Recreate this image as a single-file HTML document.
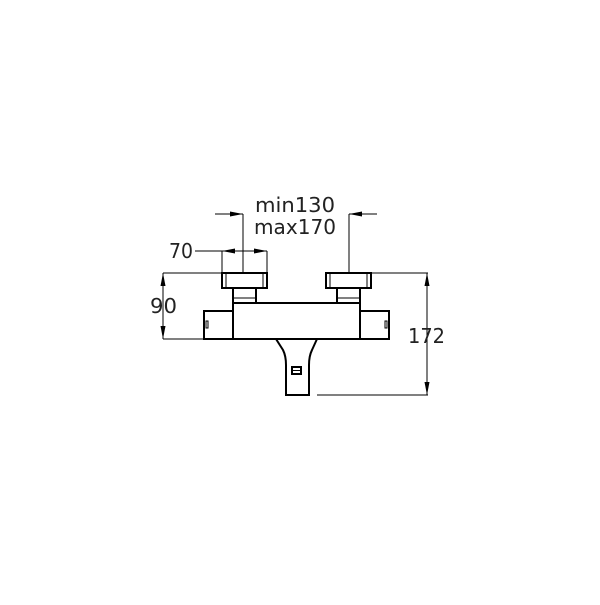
<!DOCTYPE html>
<html><head><style>body{margin:0;background:#fff}</style></head><body>
<svg width="600" height="600" viewBox="0 0 600 600" xmlns="http://www.w3.org/2000/svg" font-family="'DejaVu Sans','Liberation Sans',sans-serif">
<rect width="600" height="600" fill="#fff"/>
<g stroke="#000" fill="none" stroke-width="1">
<line x1="215" y1="214" x2="243" y2="214"/>
<line x1="243" y1="214" x2="243" y2="273"/>
<line x1="349" y1="214" x2="377" y2="214"/>
<line x1="349" y1="214" x2="349" y2="273"/>
<line x1="195" y1="251" x2="267" y2="251"/>
<line x1="222" y1="251" x2="222" y2="273"/>
<line x1="267" y1="251" x2="267" y2="273"/>
<line x1="163" y1="273" x2="222" y2="273"/>
<line x1="163" y1="339" x2="204" y2="339"/>
<line x1="163" y1="273" x2="163" y2="339"/>
<line x1="371" y1="273" x2="428" y2="273"/>
<line x1="317" y1="395" x2="428" y2="395"/>
<line x1="427" y1="273" x2="427" y2="395"/>
</g>
<g fill="#000">
<polygon points="243,214 230,211.5 230,216.5"/>
<polygon points="349,214 362,211.5 362,216.5"/>
<polygon points="222,251 235,248.5 235,253.5"/>
<polygon points="267,251 254,248.5 254,253.5"/>
<polygon points="163,273 160.5,286 165.5,286"/>
<polygon points="163,339 160.5,326 165.5,326"/>
<polygon points="427,273 424.5,286 429.5,286"/>
<polygon points="427,395 424.5,382 429.5,382"/>
</g>
<g stroke="#000" fill="none" stroke-width="2">
<rect x="222" y="273" width="45" height="15"/>
<rect x="326" y="273" width="45" height="15"/>
<rect x="233" y="288" width="23" height="15"/>
<rect x="337" y="288" width="23" height="15"/>
<rect x="233" y="303" width="127" height="36"/>
<rect x="204" y="311" width="29" height="28"/>
<rect x="360" y="311" width="29" height="28"/>
<path d="M276,339 L283,350 Q286,356 286,365 L286,395 L309,395 L309,365 Q309,356 312,350 L317,339"/>
<rect x="292" y="367" width="9" height="7"/>
</g>
<g stroke="#000" fill="none" stroke-width="1">
<line x1="226" y1="274" x2="226" y2="287"/>
<line x1="263" y1="274" x2="263" y2="287"/>
<line x1="330" y1="274" x2="330" y2="287"/>
<line x1="367" y1="274" x2="367" y2="287"/>
<line x1="234" y1="298" x2="255" y2="298"/>
<line x1="338" y1="298" x2="359" y2="298"/>
<line x1="292" y1="370.5" x2="301" y2="370.5"/>
<rect x="206" y="321" width="2" height="7"/>
<rect x="385" y="321" width="2" height="7"/>
</g>
<g font-size="20" fill="#222">
<text x="255" y="212" textLength="80" lengthAdjust="spacingAndGlyphs">min130</text>
<text x="254" y="234" textLength="82" lengthAdjust="spacingAndGlyphs">max170</text>
<text x="169" y="258" textLength="24" lengthAdjust="spacingAndGlyphs">70</text>
<text x="150" y="313" textLength="27" lengthAdjust="spacingAndGlyphs">90</text>
<text x="408" y="343" textLength="37" lengthAdjust="spacingAndGlyphs">172</text>
</g>
</svg>
</body></html>
